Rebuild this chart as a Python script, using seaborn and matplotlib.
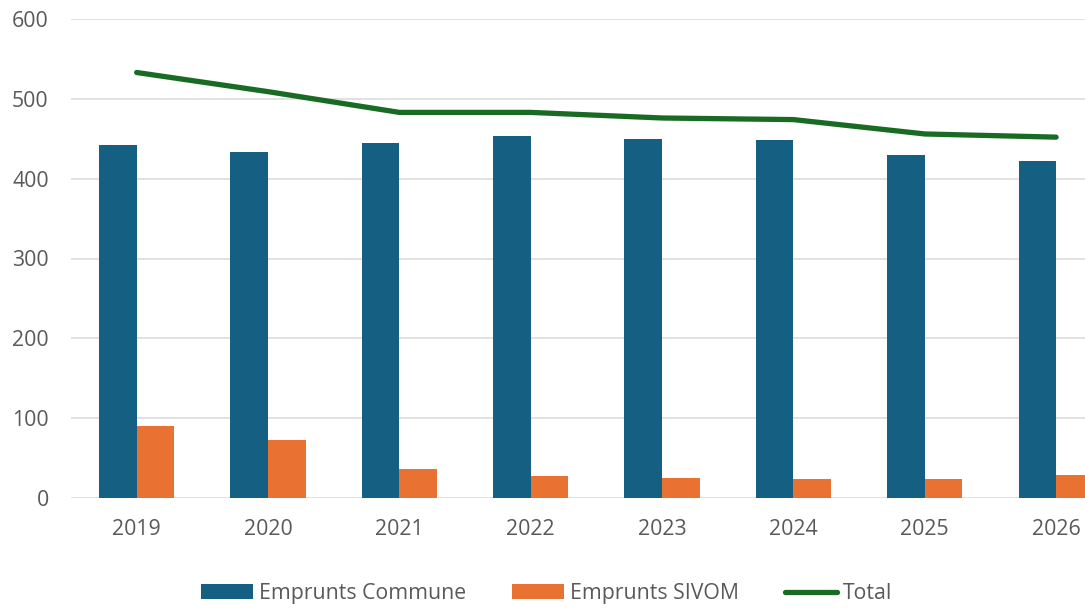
import numpy as np
import pandas as pd
import matplotlib
matplotlib.use("Agg")
import matplotlib.pyplot as plt
from matplotlib.patches import Patch
from matplotlib.lines import Line2D
import seaborn as sns

years = ["2019", "2020", "2021", "2022", "2023", "2024", "2025", "2026"]
commune = [442, 434, 445, 453, 450, 449, 430, 422]
sivom = [90, 73, 36, 28, 25, 24, 24, 29]
total = [533, 509, 483, 483, 476, 474, 456, 452]

series_names = ["Emprunts Commune", "Emprunts SIVOM", "Total"]
colors = {"Emprunts Commune": "#156082", "Emprunts SIVOM": "#E97132", "Total": "#196B24"}
text_color = "#595959"

sns.set_theme(style="white")
plt.rcParams["font.family"] = ["Open Sans", "DejaVu Sans"]

df = pd.DataFrame({
    "year": years * 2,
    "value": commune + sivom,
    "series": [series_names[0]] * len(years) + [series_names[1]] * len(years),
})

fig = plt.figure(figsize=(10.85, 6.08), dpi=100)
ax = fig.add_axes([71 / 1085, 1 - 498 / 608, 1 - 71 / 1085, (498 - 19) / 608])

sns.barplot(data=df, x="year", y="value", hue="series", order=years,
            hue_order=series_names[:2], palette=colors, width=0.572,
            saturation=1, edgecolor="none", linewidth=0, ax=ax, legend=False, zorder=2)
sns.lineplot(x=np.arange(len(years)), y=total, color=colors["Total"], linewidth=3.8,
             solid_capstyle="round", solid_joinstyle="round", ax=ax, zorder=3)

ax.set_ylim(0, 600)
ax.set_yticks(np.arange(0, 601, 100))
ax.set_xlim(-0.5, 7.22)
ax.grid(axis="y", color="#d9d9d9", linewidth=1.1, zorder=0)
ax.set_axisbelow(True)
for s in ax.spines.values():
    s.set_visible(False)
ax.set_xlabel("")
ax.set_ylabel("")
ax.tick_params(axis="both", length=0, labelsize=15.3, labelcolor=text_color)
ax.tick_params(axis="y", pad=16)
ax.tick_params(axis="x", pad=15)

handles = [
    Patch(facecolor=colors["Emprunts Commune"], edgecolor="none"),
    Patch(facecolor=colors["Emprunts SIVOM"], edgecolor="none"),
    Line2D([0], [0], color=colors["Total"], linewidth=3.8, solid_capstyle="round"),
]
leg = fig.legend(handles, series_names, loc="center", bbox_to_anchor=(0.504, 0.024),
                 ncol=3, frameon=False, fontsize=15.3, handlelength=2.45, handleheight=0.66,
                 handletextpad=0.28, columnspacing=2.15, labelcolor=text_color)

fig.savefig("out.png", dpi=100)
